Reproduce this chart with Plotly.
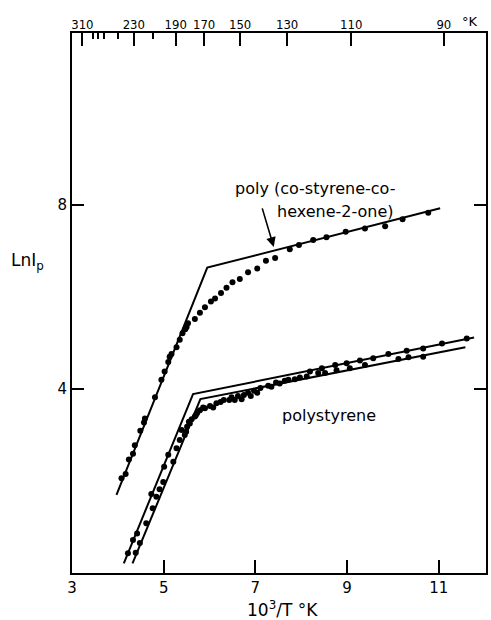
import plotly.graph_objects as go

# copolymer poly(co-styrene-co-hexene-2-one): measured points and fitted lines
copoly_x = [4.08, 4.17, 4.24, 4.33, 4.37, 4.49, 4.57, 4.59, 4.81, 4.95, 5.02, 5.10, 5.13, 5.17,
            5.28, 5.35, 5.41, 5.47, 5.50, 5.53, 5.68, 5.79, 5.90, 6.03, 6.12, 6.25, 6.37, 6.50,
            6.66, 6.84, 7.04, 7.23, 7.43, 7.75, 7.95, 8.26, 8.55, 8.97, 9.39, 9.83, 10.21, 10.77]
copoly_y = [2.06, 2.15, 2.47, 2.59, 2.78, 3.09, 3.27, 3.36, 3.82, 4.20, 4.38, 4.59, 4.70, 4.76,
            4.91, 5.07, 5.21, 5.30, 5.35, 5.43, 5.52, 5.66, 5.78, 5.90, 5.97, 6.09, 6.20, 6.32,
            6.39, 6.54, 6.62, 6.79, 6.85, 7.04, 7.13, 7.24, 7.30, 7.42, 7.49, 7.54, 7.69, 7.83]
copoly_fit_x = [3.97, 5.95, 11.03]
copoly_fit_y = [1.70, 6.64, 7.93]

# polystyrene, two runs
ps_a_x = [4.22, 4.33, 4.42, 4.73, 5.01, 5.10, 5.35, 5.39, 5.49, 5.57, 5.73, 5.86, 6.15, 6.31,
          6.48, 6.62, 6.75, 6.97, 7.11, 7.28, 7.45, 7.64, 7.97, 8.19, 8.45, 8.74, 8.99, 9.28,
          9.57, 9.90, 10.30, 10.66, 11.07, 11.61]
ps_a_y = [0.43, 0.72, 0.86, 1.72, 2.31, 2.57, 2.89, 3.11, 3.07, 3.25, 3.48, 3.60, 3.69, 3.76,
          3.82, 3.85, 3.87, 3.96, 4.02, 4.07, 4.14, 4.18, 4.25, 4.38, 4.45, 4.52, 4.56, 4.62,
          4.67, 4.76, 4.83, 4.88, 4.99, 5.10]
ps_b_x = [4.39, 4.48, 4.62, 4.76, 4.84, 4.91, 4.99, 5.21, 5.28, 5.46, 5.51, 5.55, 5.61, 5.68,
          5.70, 5.79, 5.90, 6.01, 6.08, 6.24, 6.43, 6.55, 6.70, 6.84, 6.90, 7.04, 7.35, 7.53,
          7.72, 7.86, 8.12, 8.37, 8.52, 8.77, 9.06, 9.39, 10.12, 10.34, 10.66]
ps_b_y = [0.44, 0.65, 1.08, 1.41, 1.66, 1.82, 1.98, 2.42, 2.71, 3.00, 3.18, 3.29, 3.34, 3.40,
          3.43, 3.54, 3.58, 3.63, 3.60, 3.72, 3.76, 3.76, 3.78, 3.92, 3.85, 3.92, 4.05, 4.12,
          4.20, 4.21, 4.27, 4.35, 4.35, 4.41, 4.45, 4.52, 4.65, 4.69, 4.70]
ps_fit_a_x = [4.13, 5.64, 11.77]
ps_fit_a_y = [0.21, 3.89, 5.12]
ps_fit_b_x = [4.32, 5.80, 11.58]
ps_fit_b_y = [0.21, 3.78, 4.91]

# axis ticks
x_ticks = [3, 5, 7, 9, 11]
y_ticks = [4, 8]
temp_labeled = [310, 230, 190, 170, 150, 130, 110, 90]
temp_minor = [290, 280, 270, 250, 210]

FONT = "DejaVu Sans"
fig = go.Figure()

for fx, fy in [(copoly_fit_x, copoly_fit_y), (ps_fit_a_x, ps_fit_a_y), (ps_fit_b_x, ps_fit_b_y)]:
    fig.add_trace(go.Scatter(x=fx, y=fy, mode='lines',
                             line=dict(color='black', width=2), showlegend=False))

for px, py in [(copoly_x, copoly_y), (ps_a_x, ps_a_y), (ps_b_x, ps_b_y)]:
    fig.add_trace(go.Scatter(x=px, y=py, mode='markers',
                             marker=dict(color='black', size=6), showlegend=False))

# dummy trace to bring up the top (temperature) axis
fig.add_trace(go.Scatter(x=[3], y=[0], xaxis='x2', mode='markers',
                         marker=dict(opacity=0), showlegend=False, hoverinfo='skip'))

fig.update_layout(
    width=491, height=620,
    margin=dict(l=72, r=5, t=33, b=47),
    plot_bgcolor='white', paper_bgcolor='white',
    font=dict(family=FONT, color='black', size=14),
    xaxis=dict(range=[3, 12.03], tickvals=x_ticks, ticks='inside', ticklen=13,
               tickwidth=2, tickcolor='black', showline=True, linecolor='black',
               linewidth=2, mirror=True, showgrid=False, zeroline=False,
               tickfont=dict(size=15), automargin=False, tickangle=0),
    xaxis2=dict(range=[3, 12.03], overlaying='x', side='top',
                tickvals=[1000 / t for t in temp_labeled],
                ticktext=[str(t) for t in temp_labeled],
                ticks='inside', ticklen=13, tickwidth=2, tickcolor='black',
                minor=dict(tickvals=[1000 / t for t in temp_minor], ticks='inside',
                           ticklen=6, tickwidth=2, tickcolor='black'),
                showgrid=False, zeroline=False, showline=False,
                tickfont=dict(size=13, family="DejaVu Sans Condensed, DejaVu Sans"),
                tickangle=0, automargin=False),
    yaxis=dict(range=[0, 11.74], tickvals=y_ticks, ticks='inside', ticklen=12,
               tickwidth=2, tickcolor='black', showline=True, linecolor='black',
               linewidth=2, mirror='ticks', showgrid=False, zeroline=False,
               tickfont=dict(size=15), automargin=False),
)

ann = [
    dict(x=6.51, y=8.35, text="poly (co-styrene-co-", xanchor='left'),
    dict(x=7.43, y=7.87, text="hexene-2-one)", xanchor='left'),
    dict(x=7.54, y=3.43, text="polystyrene", xanchor='left'),
]
for a in ann:
    fig.add_annotation(xref='x', yref='y', showarrow=False, yanchor='middle',
                       font=dict(size=16), **a)

fig.add_annotation(x=7.40, y=7.09, ax=7.14, ay=7.96, xref='x', yref='y',
                   axref='x', ayref='y', text='', showarrow=True,
                   arrowhead=2, arrowsize=1.2, arrowwidth=1.6, arrowcolor='black')

fig.add_annotation(xref='paper', yref='y', x=-0.151, y=6.78, xanchor='left',
                   text="LnI<sub>p</sub>", showarrow=False, font=dict(size=17))
fig.add_annotation(xref='x', yref='paper', x=7.6, y=0, yshift=-36, yanchor='middle',
                   text="10<sup>3</sup>/T °K", showarrow=False, font=dict(size=17))
fig.add_annotation(xref='paper', yref='paper', x=0.985, y=1, yshift=12,
                   yanchor='middle', text="°K", showarrow=False, font=dict(size=13))

# page has a default body margin; drop it so the figure sits at the window corner
fig.write_html("out.html", config={'displayModeBar': False},
               post_script="document.body.style.margin='0px';")
